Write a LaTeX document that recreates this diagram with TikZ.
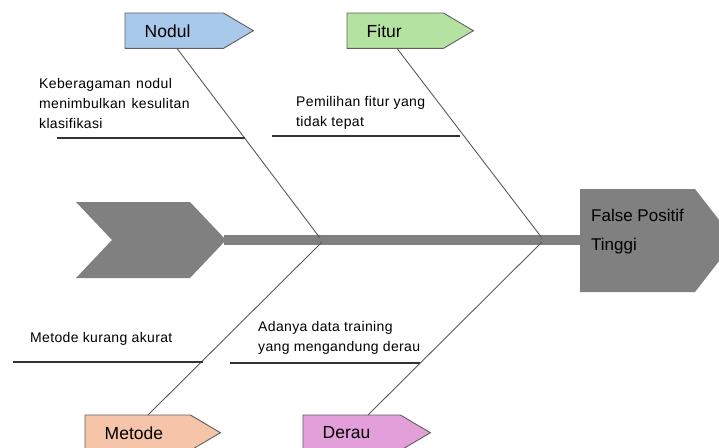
\documentclass[tikz,border=0pt]{standalone}
\usepackage{fontspec}
\setmainfont{Liberation Sans}
\definecolor{spinegrey}{HTML}{808080}
\definecolor{bonegrey}{HTML}{5A5A5A}
\definecolor{boxline}{HTML}{5F5F5F}
\definecolor{nodulc}{HTML}{A9C9EB}
\definecolor{fiturc}{HTML}{B4E3A1}
\definecolor{metodec}{HTML}{F6C5A9}
\definecolor{derauc}{HTML}{E29FDA}
\tikzset{
  catlabel/.style={rectangle, draw=none, anchor=north west, minimum height=35pt, inner sep=0pt, text depth=0pt, font=\fontsize{17.5}{18}\selectfont, align=left},
  bone/.style={draw=bonegrey, line width=0.9pt},
  subline/.style={draw=black!80, line width=1.1pt},
  cause/.style={anchor=west, inner sep=0pt, font=\fontsize{14}{20}\selectfont\addfontfeature{LetterSpace=2.5}, align=left, text=black},
  boxedge/.style={draw=boxline, line width=0.9pt},
}
\begin{document}
\begin{tikzpicture}[x=1pt,y=-1pt]
\useasboundingbox (0,0) rectangle (719,447);
% tail and head
\fill[spinegrey] (76,202) -- (190,202) -- (226,240) -- (190,278) -- (76,278) -- (112,240) -- cycle;
\coordinate (tailtip) at (224,240);
\fill[spinegrey] (580,189) -- (695,189) -- (735,240.5) -- (695,292) -- (580,292) -- cycle;
\coordinate (headw) at (581,240);
\node[anchor=west, inner sep=0pt, align=left, font=\fontsize{17}{29}\selectfont] (effect) at (591,232) {False Positif\\Tinggi};
% spine
\draw[spinegrey, line width=10pt] (tailtip) -- (headw);
% category boxes
\foreach \n/\x/\y/\w/\c/\t in {nodul/125/13/98/nodulc/Nodul, fitur/347/13/96/fiturc/Fitur, metode/85/415/105/metodec/Metode, derau/303/415/97/derauc/Derau}{
  \node[catlabel, minimum width=\w pt, text width=\w pt-13pt] (\n) at (\x,\y) {\hspace*{13pt}\t};
  \path[boxedge, fill=\c] (\n.north west) -- (\n.north east) -- ([xshift=30pt]\n.east) -- (\n.south east) -- (\n.south west) -- cycle;
  \node[catlabel, minimum width=\w pt, text width=\w pt-13pt] at (\x,\y) {\hspace*{13pt}\t};
}
% joints on spine
\coordinate (j1) at (320,238);
\coordinate (j2) at (542,238);
\coordinate (j3) at (322,242);
\coordinate (j4) at (542,242);
% bones
\draw[bone] ([xshift=52pt]nodul.south west) -- (j1);
\draw[bone] ([xshift=50pt]fitur.south west) -- (j2);
\draw[bone] ([xshift=63pt]metode.north west) -- (j3);
\draw[bone] ([xshift=65pt]derau.north west) -- (j4);
% sub-cause lines
\coordinate (s1a) at (57,138);  \coordinate (s1b) at (245,138);
\coordinate (s2a) at (272,136); \coordinate (s2b) at (460,136);
\coordinate (s3a) at (13,362);  \coordinate (s3b) at (203,362);
\coordinate (s4a) at (230,363); \coordinate (s4b) at (420,363);
\draw[subline] (s1a) -- (s1b);
\draw[subline] (s2a) -- (s2b);
\draw[subline] (s3a) -- (s3b);
\draw[subline] (s4a) -- (s4b);
% cause texts
\node[cause] (c1) at (39,103) {Keberagaman\hspace{0.4em}nodul\\menimbulkan\hspace{0.4em}kesulitan\\klasifikasi};
\node[cause] (c2) at (296,113) {Pemilihan fitur yang\\tidak tepat};
\node[cause] (c3) at (30,339) {Metode kurang akurat};
\node[cause] (c4) at (258,338) {Adanya data training\\yang mengandung\hspace{0.3em}derau};
\end{tikzpicture}
\end{document}
